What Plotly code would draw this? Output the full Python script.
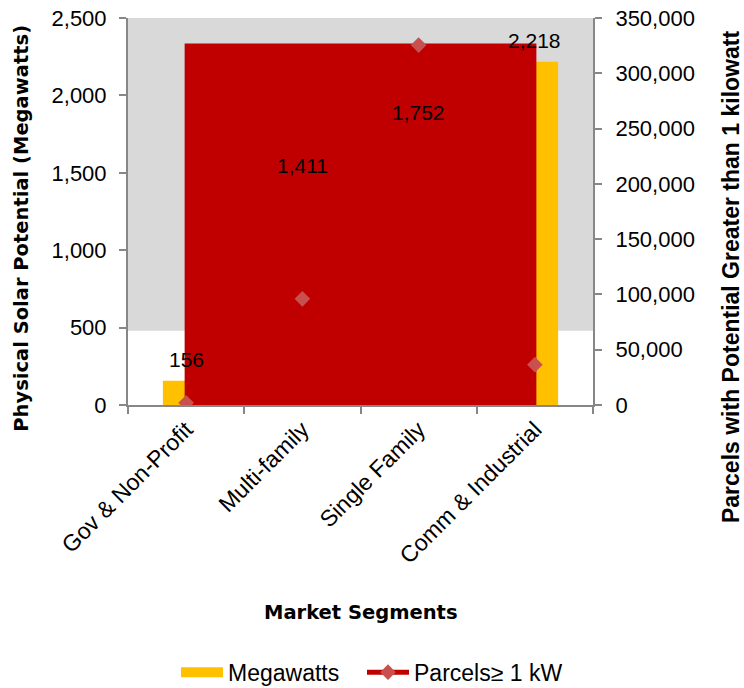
import plotly.graph_objects as go

# Market segment data
segments = ["Gov & Non-Profit", "Multi-family", "Single Family", "Comm & Industrial"]
megawatts = [156, 1411, 1752, 2218]
parcels = [2000, 96000, 325500, 36500]

mw_ticks = [0, 500, 1000, 1500, 2000, 2500]
parcel_ticks = [0, 50000, 100000, 150000, 200000, 250000, 300000, 350000]

YELLOW = "#FFC000"
RED = "#C00000"
DIAMOND = "#C8504F"
AXIS = "#878787"
GREY = "#D9D9D9"
SANS = "Liberation Sans, Arial, sans-serif"
WIDE = "DejaVu Sans, Verdana, sans-serif"
TICK_FONT = dict(family=SANS, size=22, color="#000000")
XTICK_FONT = dict(family=SANS, size=23, color="#000000")
LABEL_FONT = dict(family=SANS, size=21, color="#000000")
LEGEND_FONT = dict(family=SANS, size=23, color="#000000")
LEFT_TITLE_FONT = dict(family=WIDE, size=19.5, color="#000000")
X_TITLE_FONT = dict(family=WIDE, size=19.5, color="#000000")
RIGHT_TITLE_FONT = dict(family=SANS, size=23, color="#000000")

fig = go.Figure()

# Solar potential bars (left axis)
fig.add_trace(go.Bar(
    x=segments, y=megawatts, name="Megawatts",
    marker=dict(color=YELLOW, line=dict(width=0)),
    width=0.4, showlegend=False, yaxis="y",
))

# Legend swatch for the bars
fig.add_trace(go.Scatter(
    x=[None], y=[None], mode="lines", name="Megawatts",
    line=dict(color=YELLOW, width=10), yaxis="y2", legend="legend",
))

# Red block spanning the parcel series extent (right axis)
fig.add_trace(go.Scatter(
    x=[segments[0], segments[-1], segments[-1], segments[0], segments[0]],
    y=[0, 0, max(parcels), max(parcels), 0],
    mode="lines", fill="toself", fillcolor=RED,
    line=dict(color=RED, width=3), hoverinfo="skip",
    showlegend=False, yaxis="y2",
))

# Parcel counts (right axis)
fig.add_trace(go.Scatter(
    x=segments, y=parcels, name="Parcels\u2265 1 kW",
    mode="lines+markers",
    line=dict(color=RED, width=5),
    marker=dict(symbol="diamond", size=12, color=DIAMOND),
    yaxis="y2", legend="legend2",
))

# Value labels above the bars
annotations = []
for seg, val in zip(segments, megawatts):
    annotations.append(dict(
        x=seg, y=val, xref="x", yref="y", text=f"{val:,}",
        showarrow=False, yshift=21, font=LABEL_FONT,
    ))

# Axis titles
annotations += [
    dict(text="<b>Physical Solar Potential (Megawatts)</b>", textangle=-90,
         xref="paper", yref="paper", x=-0.228, y=0.458, showarrow=False,
         font=LEFT_TITLE_FONT, xanchor="center", yanchor="middle"),
    dict(text="<b>Parcels with Potential Greater than 1 kilowatt</b>", textangle=-90,
         xref="paper", yref="paper", x=1.297, y=0.331, showarrow=False,
         font=RIGHT_TITLE_FONT, xanchor="center", yanchor="middle"),
    dict(text="<b>Market Segments</b>", xref="paper", yref="paper",
         x=0.5, y=-0.535, showarrow=False, font=X_TITLE_FONT,
         xanchor="center", yanchor="middle"),
]

legend_common = dict(
    orientation="h", xanchor="left",
    yref="container", y=0.023, yanchor="middle",
    font=LEGEND_FONT, itemwidth=42, bgcolor="rgba(0,0,0,0)",
)

fig.update_layout(
    width=744, height=688,
    margin=dict(l=128, r=151, t=18, b=283, autoexpand=False),
    paper_bgcolor="#FFFFFF", plot_bgcolor="#FFFFFF",
    font=TICK_FONT,
    annotations=annotations,
    shapes=[dict(type="rect", xref="paper", yref="y", x0=0, x1=1, y0=480, y1=2500,
                 fillcolor=GREY, line=dict(width=0), layer="below")],
    xaxis=dict(
        type="category", tickangle=-45, tickson="boundaries",
        ticks="outside", ticklen=7, tickwidth=2, tickcolor=AXIS,
        showline=True, linecolor=AXIS, linewidth=2, showgrid=False,
        tickfont=XTICK_FONT, range=[-0.5, 3.5], automargin=False,
    ),
    yaxis=dict(
        range=[0, 2500], tickvals=mw_ticks, tickformat=",",
        ticks="outside", ticklen=7, tickwidth=2, tickcolor=AXIS,
        showline=True, linecolor=AXIS, linewidth=2, showgrid=False,
        zeroline=False, tickfont=TICK_FONT, automargin=False,
        ticklabelstandoff=8,
    ),
    yaxis2=dict(
        range=[0, 350000], tickvals=parcel_ticks, tickformat=",",
        overlaying="y", side="right",
        ticks="outside", ticklen=7, tickwidth=2, tickcolor=AXIS,
        showline=True, linecolor=AXIS, linewidth=2, showgrid=False,
        zeroline=False, tickfont=TICK_FONT, automargin=False,
        ticklabelstandoff=9,
    ),
    legend=dict(legend_common, xref="container", x=176 / 744),
    legend2=dict(legend_common, xref="container", x=362 / 744),
    bargap=0.6,
)

fig.write_html("out.html")
